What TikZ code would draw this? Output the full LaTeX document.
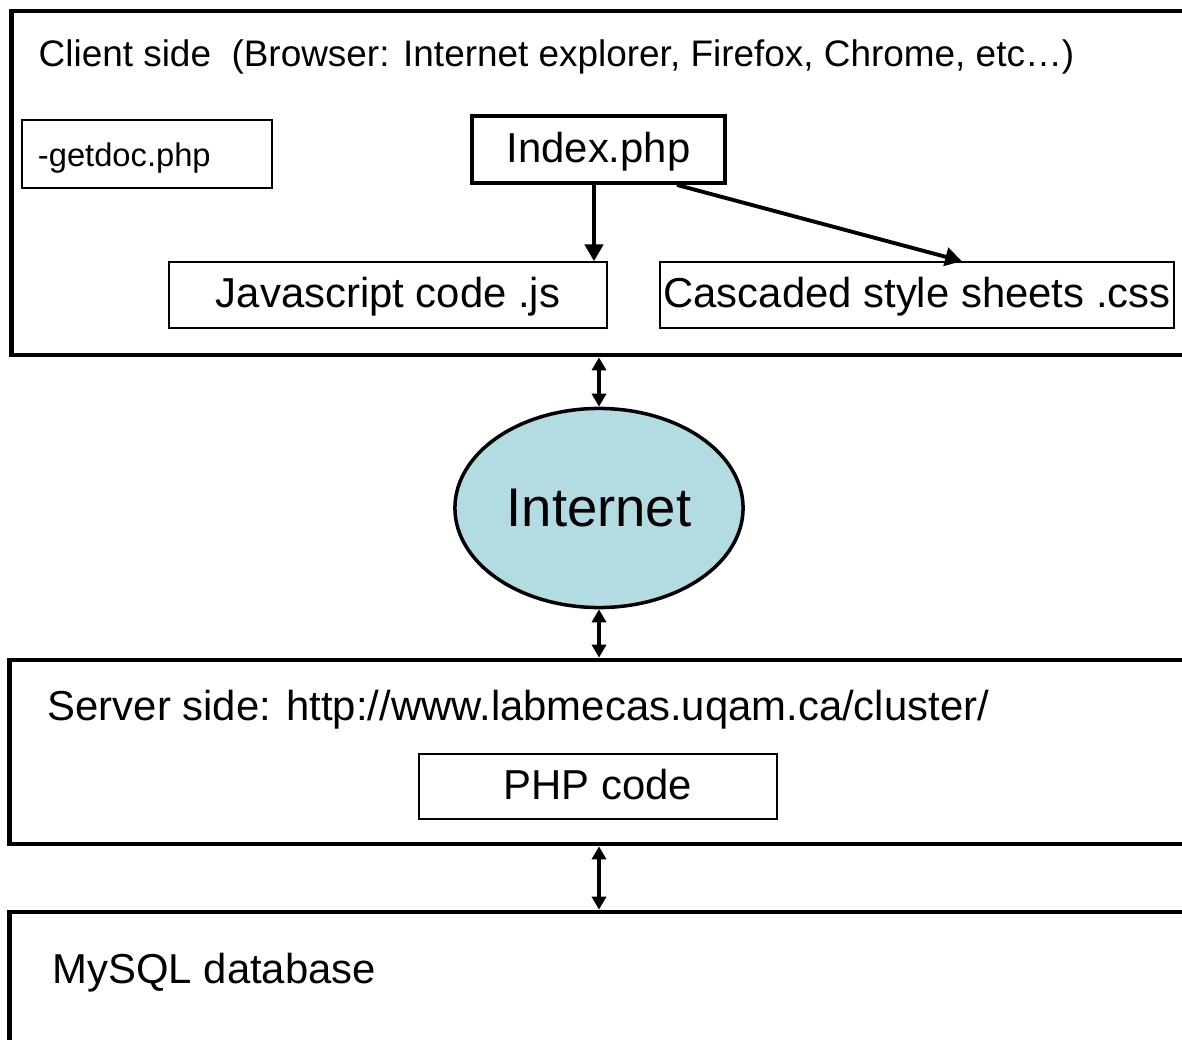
\documentclass[tikz,border=0pt]{standalone}
\usepackage{fontspec}
\setmainfont{Liberation Sans}
\usetikzlibrary{arrows.meta,shapes.geometric}
\definecolor{netblue}{RGB}{178,220,226}

\begin{document}
\begin{tikzpicture}
  [x=0.01cm,y=-0.01cm,
   layer/.style={draw,line width=1.3pt,inner sep=0pt,minimum width=11.9cm},
   file/.style={draw,line width=0.45pt,inner sep=0pt,text height=0.85em,text depth=0.134em,
                font=\fontsize{11.9}{14}\selectfont},
   mainfile/.style={file,line width=1.1pt},
   caption/.style={inner sep=0pt,anchor=base west},
   link/.style={line width=1.1pt,-{Triangle[length=4.8pt,width=5.2pt]}},
   both/.style={line width=1pt,{Triangle[length=3.7pt,width=4pt]}-{Triangle[length=3.7pt,width=4pt]}}]

  \clip (0,0) rectangle (1182,1040);

  % layers
  \node[layer,minimum height=3.44cm] (client) at (607,183) {};
  \node[layer,minimum height=1.84cm] (server) at (605,752) {};
  \node[layer,minimum height=1.88cm] (mysql) at (605,1006) {};

  \node[caption,font=\fontsize{10.5}{12}\selectfont] (clienttxt) at (38,67)
    {Client side\ \ (Browser: Internet explorer, Firefox, Chrome, etc\dots)};
  \node[caption,font=\fontsize{11.9}{14}\selectfont] (servertxt) at (47,720)
    {Server side: http://www.labmecas.uqam.ca/cluster/};
  \node[caption,font=\fontsize{11.9}{14}\selectfont] (mysqltxt) at (52,983)
    {MySQL database};

  % files
  \node[file,font=\fontsize{9.3}{11}\selectfont,inner xsep=0.16cm,text width=2.18cm,
        align=left,minimum height=0.68cm] (getdoc) at (147,154) {-getdoc.php};
  \node[mainfile,minimum width=2.53cm,minimum height=0.67cm] (index) at (598.5,149.5) {Index.php};
  \node[file,minimum width=4.38cm,minimum height=0.66cm] (js) at (388,295) {Javascript code .js};
  \node[file,minimum width=5.14cm,minimum height=0.66cm] (css) at (917,295) {Cascaded style sheets .css};
  \node[file,minimum width=3.58cm,minimum height=0.65cm] (php) at (598,786.5) {PHP code};

  \node[ellipse,draw,line width=1pt,fill=netblue,inner sep=0pt,
        minimum width=2.88cm,minimum height=1.99cm,
        font=\fontsize{15.5}{18}\selectfont] (internet) at (599,508) {Internet};

  \draw[link] ([xshift=-0.045cm]index.south) -- ([xshift=-0.045cm]index.south |- js.north);
  \draw[link] ([xshift=-0.5cm]index.south east) -- ([xshift=0.45cm]css.north);

  \draw[both] (client.south -| internet) -- (internet.north);
  \draw[both] (internet.south) -- (internet.south |- server.north);
  \draw[both] (server.south -| internet) -- (mysql.north -| internet);
\end{tikzpicture}
\end{document}
